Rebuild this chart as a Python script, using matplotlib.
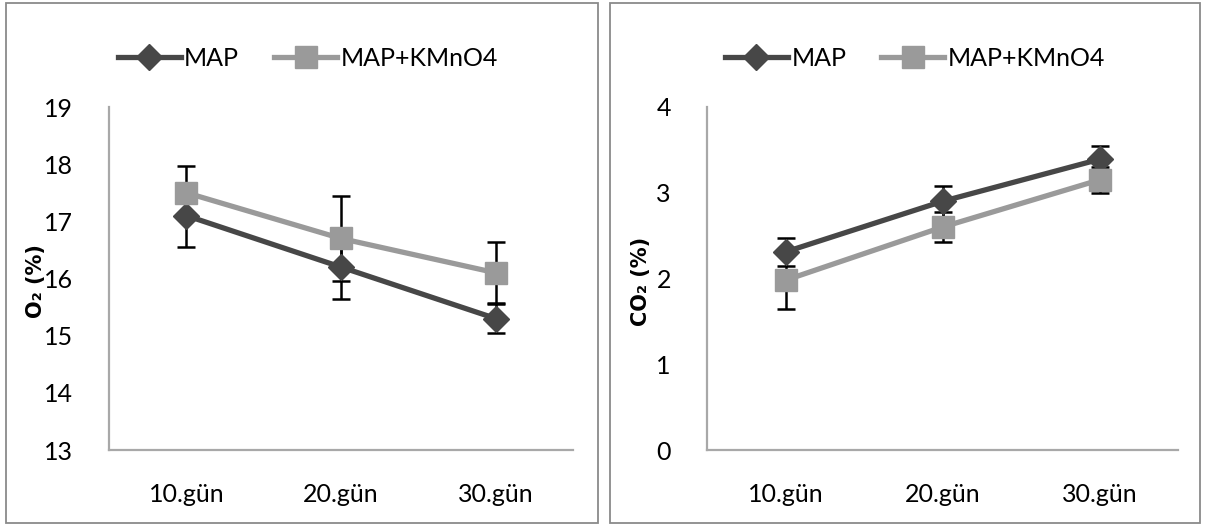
import matplotlib
matplotlib.use("Agg")
import matplotlib.pyplot as plt
from matplotlib.patches import Rectangle

plt.rcParams['font.family'] = ['Lato', 'DejaVu Sans']

categories = ["10.gün", "20.gün", "30.gün"]
series_names = ["MAP", "MAP+KMnO4"]

o2_map = [17.10, 16.20, 15.30]
o2_map_err = [0.55, 0.55, 0.25]
o2_kmno4 = [17.50, 16.70, 16.10]
o2_kmno4_err = [0.46, 0.75, 0.53]

co2_map = [2.31, 2.90, 3.39]
co2_map_err = [0.16, 0.18, 0.15]
co2_kmno4 = [1.98, 2.60, 3.15]
co2_kmno4_err = [0.34, 0.17, 0.15]

o2_ticks = [13, 14, 15, 16, 17, 18, 19]
co2_ticks = [0, 1, 2, 3, 4]

W, H = 1206, 527
fig = plt.figure(figsize=(W / 100, H / 100), dpi=100)

dark = '#474747'
light = '#9a9a9a'
spine_c = '#a8a8a8'


def fx(px):
    return px / W


def fy(py):
    return 1 - py / H


# panel borders
for x0, x1 in [(6, 598), (610, 1200)]:
    fig.patches.append(Rectangle((fx(x0), fy(523)), fx(x1) - fx(x0), fy(3) - fy(523),
                                 transform=fig.transFigure, fill=False,
                                 edgecolor='#8a8a8a', linewidth=1.3))


def make_panel(left_px, right_px, y_map, e_map, y_k, e_k, ticks, ylabel, leg_x, ylab_x):
    ax = fig.add_axes([fx(left_px), fy(450), fx(right_px) - fx(left_px), fy(107) - fy(450)])
    x = list(range(len(categories)))
    ax.errorbar(x, y_map, yerr=e_map, fmt='none', ecolor='black', elinewidth=1.8,
                capsize=6.5, capthick=1.8, zorder=1)
    ax.errorbar(x, y_k, yerr=e_k, fmt='none', ecolor='black', elinewidth=1.8,
                capsize=6.5, capthick=1.8, zorder=1)
    l1, = ax.plot(x, y_map, color=dark, linewidth=3.8, marker='D', markersize=13.5,
                  markerfacecolor=dark, markeredgecolor=dark, zorder=3, label=series_names[0])
    l2, = ax.plot(x, y_k, color=light, linewidth=3.8, marker='s', markersize=15.5,
                  markerfacecolor=light, markeredgecolor=light, zorder=4, label=series_names[1])
    ax.set_xlim(-0.5, len(categories) - 0.5)
    ax.set_ylim(ticks[0], ticks[-1])
    ax.set_yticks(ticks)
    ax.set_xticks(x)
    ax.set_xticklabels(categories)
    ax.tick_params(axis='both', length=0, labelsize=18, colors='black')
    ax.tick_params(axis='y', pad=26)
    ax.tick_params(axis='x', pad=24)
    for lab in ax.get_yticklabels():
        lab.set_verticalalignment('center_baseline')
    for s in ['top', 'right']:
        ax.spines[s].set_visible(False)
    for s in ['left', 'bottom']:
        ax.spines[s].set_color(spine_c)
        ax.spines[s].set_linewidth(1.6)
    ax.set_facecolor('none')
    fig.text(fx(ylab_x), fy(281), ylabel, rotation=90, ha='center', va='center',
             fontsize=15, fontweight='bold', family=['DejaVu Sans'])
    ax.legend(handles=[l1, l2], loc='center left',
              bbox_to_anchor=(fx(leg_x), fy(58)), bbox_transform=fig.transFigure,
              ncol=2, frameon=False, fontsize=18, handlelength=2.5, handletextpad=0.15,
              columnspacing=1.4, borderpad=0, borderaxespad=0, numpoints=1)
    return ax


make_panel(109, 573, o2_map, o2_map_err, o2_kmno4, o2_kmno4_err, o2_ticks,
           "O₂ (%)", 118, 36)
make_panel(707, 1178, co2_map, co2_map_err, co2_kmno4, co2_kmno4_err, co2_ticks,
           "CO₂ (%)", 725, 641)

fig.savefig("out.png", dpi=100)
